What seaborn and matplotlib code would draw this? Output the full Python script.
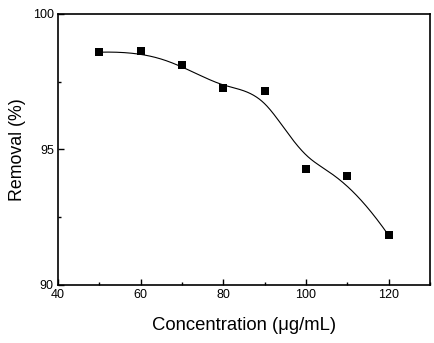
import numpy as np
import pandas as pd
import matplotlib
matplotlib.use("Agg")
import matplotlib.pyplot as plt
import seaborn as sns
from matplotlib.ticker import MultipleLocator

concentration = [50, 60, 70, 80, 90, 100, 110, 120]
removal = [98.59, 98.63, 98.11, 97.26, 97.15, 94.27, 94.01, 91.83]

df = pd.DataFrame({"Concentration": concentration, "Removal": removal})

sns.set_theme(style="ticks")
plt.rcParams['font.family'] = ['Liberation Sans', 'DejaVu Sans']


def bspline(px, py, degree=3, n=400):
    P = np.column_stack([px, py]).astype(float)
    m = len(P)
    inner = np.arange(1, m - degree)
    knots = np.concatenate([np.zeros(degree + 1), inner, np.full(degree + 1, m - degree)]).astype(float)
    t = np.linspace(0, knots[-1], n)
    t[-1] -= 1e-9

    def basis(i, k, tt):
        if k == 0:
            return np.where((knots[i] <= tt) & (tt < knots[i + 1]), 1.0, 0.0)
        out = np.zeros_like(tt)
        d1 = knots[i + k] - knots[i]
        d2 = knots[i + k + 1] - knots[i + 1]
        if d1 > 0:
            out += (tt - knots[i]) / d1 * basis(i, k - 1, tt)
        if d2 > 0:
            out += (knots[i + k + 1] - tt) / d2 * basis(i + 1, k - 1, tt)
        return out

    B = np.column_stack([basis(i, degree, t) for i in range(m)])
    C = B @ P
    return C[:, 0], C[:, 1]


fig = plt.figure(figsize=(4.34, 3.43), dpi=100)
ax = fig.add_axes([0.1336, 0.1691, 0.9908 - 0.1336, 0.9592 - 0.1691])

cx, cy = bspline(df["Concentration"].values, df["Removal"].values)
ax.plot(cx, cy, color="black", lw=0.8)
sns.scatterplot(data=df, x="Concentration", y="Removal", marker="s", s=28,
                color="black", edgecolor="black", linewidth=0, ax=ax, zorder=3)

ax.set_xlim(40, 130)
ax.set_ylim(90, 100)
ax.xaxis.set_major_locator(MultipleLocator(20))
ax.xaxis.set_minor_locator(MultipleLocator(10))
ax.yaxis.set_major_locator(MultipleLocator(5))
ax.yaxis.set_minor_locator(MultipleLocator(2.5))
ax.set_xticks([40, 60, 80, 100, 120])
ax.tick_params(which="both", direction="in", top=False, right=False, width=1, color="black",
               labelsize=9, labelcolor="black")
ax.tick_params(which="major", length=4.5, pad=3)
ax.tick_params(which="minor", length=2.5)
for s in ax.spines.values():
    s.set_visible(True)
    s.set_linewidth(1.2)
    s.set_color("black")
ax.grid(False)
ax.set_facecolor("white")
fig.patch.set_facecolor("white")

ax.set_xlabel("Concentration (μg/mL)", fontsize=13.3, color="black", va="center")
ax.set_ylabel("Removal (%)", fontsize=12.8, color="black", va="center")
ax.xaxis.set_label_coords(0.5, -0.148)
ax.yaxis.set_label_coords(-0.108, 0.5)

fig.savefig("out.png", dpi=100)
